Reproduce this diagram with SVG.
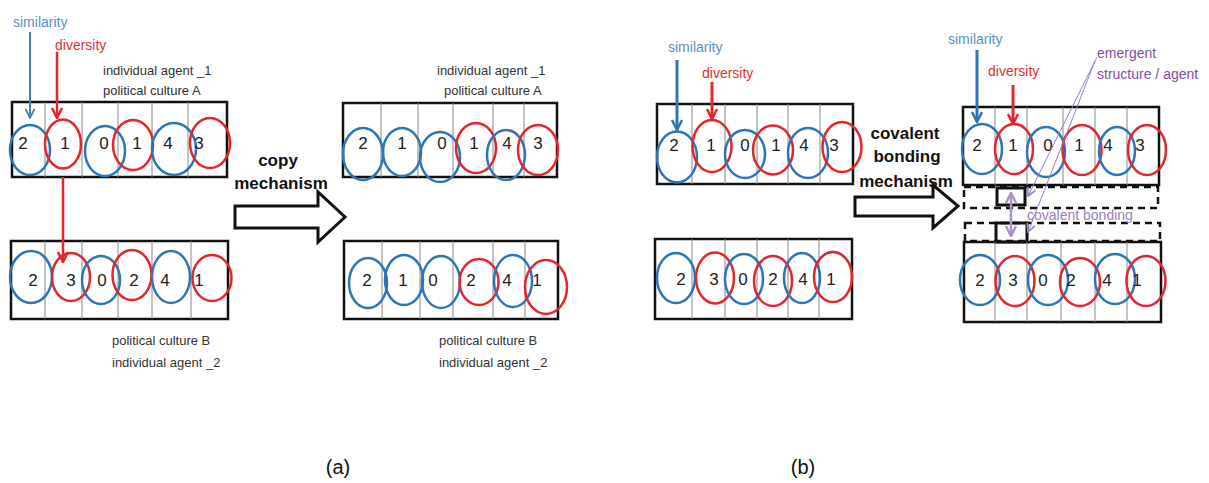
<svg xmlns="http://www.w3.org/2000/svg" width="1209" height="483" viewBox="0 0 1209 483">
<style>
.box{fill:none;stroke:#111;stroke-width:2.5}
.div{stroke:#888;stroke-width:1}
.b{fill:none;stroke:#2E75B6;stroke-width:2.5}
.r{fill:none;stroke:#E3262B;stroke-width:2.5}
.d{font-family:"Liberation Sans",Arial,sans-serif;font-size:17px;fill:#222;text-anchor:middle}
.lbl{font-family:"Liberation Sans",Arial,sans-serif;font-size:13px;fill:#333}
.sim{font-family:"Liberation Sans",Arial,sans-serif;font-size:14px;fill:#5B8FC9}
.div2{font-family:"Liberation Sans",Arial,sans-serif;font-size:14px;fill:#E0302F}
.mech{font-family:"Liberation Sans",Arial,sans-serif;font-size:17px;font-weight:bold;fill:#111;text-anchor:middle}
.pur{font-family:"Liberation Sans",Arial,sans-serif;font-size:14px;fill:#7E4FA5}
.pur2{font-family:"Liberation Sans",Arial,sans-serif;font-size:14px;fill:#9A80C4}
.cap{font-family:"Liberation Sans",Arial,sans-serif;font-size:20px;fill:#111;text-anchor:middle}
.dash{fill:none;stroke:#111;stroke-width:2.5;stroke-dasharray:7 5}
.sq{fill:none;stroke:#111;stroke-width:3}
.big{fill:#fff;stroke:#111;stroke-width:3;stroke-linejoin:miter}
</style>
<defs>
<marker id="ahB" viewBox="0 0 12 12" refX="11" refY="6" markerWidth="12" markerHeight="12" markerUnits="userSpaceOnUse" orient="auto"><path d="M1,1 L11,6 L1,11" fill="none" stroke="#2E75B6" stroke-width="2.5"/></marker>
<marker id="ahLB" viewBox="0 0 12 12" refX="11" refY="6" markerWidth="11" markerHeight="11" markerUnits="userSpaceOnUse" orient="auto"><path d="M1,1 L11,6 L1,11" fill="none" stroke="#4A7EBB" stroke-width="2"/></marker>
<marker id="ahR" viewBox="0 0 12 12" refX="11" refY="6" markerWidth="12" markerHeight="12" markerUnits="userSpaceOnUse" orient="auto"><path d="M1,1 L11,6 L1,11" fill="none" stroke="#E3262B" stroke-width="2.5"/></marker>
<marker id="ahP" viewBox="0 0 12 12" refX="11" refY="6" markerWidth="10" markerHeight="10" markerUnits="userSpaceOnUse" orient="auto"><path d="M1,1 L11,6 L1,11" fill="none" stroke="#9A80C4" stroke-width="2"/></marker>
<marker id="ahPs" viewBox="0 0 12 12" refX="11" refY="6" markerWidth="12" markerHeight="12" markerUnits="userSpaceOnUse" orient="auto-start-reverse"><path d="M1,1 L11,6 L1,11" fill="none" stroke="#A894C8" stroke-width="2.5"/></marker>
</defs>

<g id="a-top">
<rect class="box" x="12" y="102" width="215" height="75"/>
<path class="div" d="M45,102V177M82,102V177M118,102V177M152,102V177M188,102V177"/>
<ellipse class="b" cx="30" cy="150" rx="20" ry="25"/><ellipse class="r" cx="63" cy="144" rx="18" ry="24.5"/><ellipse class="b" cx="105" cy="151" rx="20" ry="25"/><ellipse class="r" cx="133" cy="145" rx="20" ry="25"/><ellipse class="b" cx="174" cy="149" rx="22" ry="26"/><ellipse class="r" cx="210" cy="143" rx="20" ry="25"/>
<text class="d" x="23" y="149">2</text><text class="d" x="65" y="149">1</text><text class="d" x="104" y="149">0</text><text class="d" x="137" y="149">1</text><text class="d" x="168" y="149">4</text><text class="d" x="199" y="149">3</text>
<text class="lbl" x="103" y="75">individual agent  _1</text>
<text class="lbl" x="103" y="95">political culture A</text>
</g>

<g id="a-bottom">
<rect class="box" x="11" y="241" width="217" height="78"/>
<path class="div" d="M45,241V319M82,241V319M118,241V319M152,241V319M191,241V319"/>
<ellipse class="b" cx="31" cy="277" rx="21" ry="26"/><ellipse class="r" cx="71" cy="277" rx="19" ry="24"/><ellipse class="b" cx="101" cy="280" rx="19" ry="24"/><ellipse class="r" cx="132" cy="275" rx="19.5" ry="25"/><ellipse class="b" cx="171" cy="277" rx="19" ry="26"/><ellipse class="r" cx="212" cy="278" rx="19.5" ry="23"/>
<text class="d" x="33" y="286">2</text><text class="d" x="71" y="286">3</text><text class="d" x="102" y="286">0</text><text class="d" x="134" y="286">2</text><text class="d" x="165" y="286">4</text><text class="d" x="199" y="286">1</text>
<text class="lbl" x="112" y="345">political culture B</text>
<text class="lbl" x="112" y="367">individual agent _2</text>
</g>

<g id="a-labels">
<text class="sim" x="13" y="27">similarity</text>
<text class="div2" x="55" y="50">diversity</text>
</g>

<g id="a-mech">
<text class="mech" x="278" y="166">copy</text>
<text class="mech" x="281" y="189">mechanism</text>
<polygon class="big" points="235,206 318,206 318,192 345,217 318,242 318,228 235,228"/>
</g>

<g id="a2-top">
<rect class="box" x="343" y="103" width="214" height="74"/>
<path class="div" d="M381,103V177M418,103V177M453,103V177M493,103V177M524,103V177"/>
<ellipse class="b" cx="363" cy="154" rx="20" ry="26"/><ellipse class="b" cx="402" cy="152" rx="19" ry="24"/><ellipse class="b" cx="440" cy="157" rx="20" ry="25"/><ellipse class="r" cx="476" cy="148" rx="20" ry="25"/><ellipse class="b" cx="506" cy="155" rx="19" ry="25"/><ellipse class="r" cx="538" cy="150" rx="20" ry="25"/>
<text class="d" x="363" y="149">2</text><text class="d" x="402" y="149">1</text><text class="d" x="442" y="149">0</text><text class="d" x="474" y="149">1</text><text class="d" x="507" y="149">4</text><text class="d" x="538" y="149">3</text>
<text class="lbl" x="437" y="75">individual agent  _1</text>
<text class="lbl" x="444" y="95">political culture A</text>
</g>

<g id="a2-bottom">
<rect class="box" x="344" y="241" width="214" height="78"/>
<path class="div" d="M382,241V319M420,241V319M453,241V319M493,241V319M525,241V319"/>
<ellipse class="b" cx="368" cy="283" rx="19" ry="25"/><ellipse class="b" cx="404" cy="280" rx="19" ry="25"/><ellipse class="b" cx="441" cy="282" rx="19" ry="26"/><ellipse class="r" cx="479" cy="282" rx="19.5" ry="23"/><ellipse class="b" cx="513" cy="281" rx="19" ry="26"/><ellipse class="r" cx="546" cy="287" rx="21" ry="27"/>
<text class="d" x="367" y="286">2</text><text class="d" x="403" y="286">1</text><text class="d" x="433" y="286">0</text><text class="d" x="471" y="286">2</text><text class="d" x="507" y="286">4</text><text class="d" x="537" y="286">1</text>
<text class="lbl" x="439" y="345">political culture B</text>
<text class="lbl" x="439" y="367">individual agent _2</text>
</g>

<g id="b-top">
<rect class="box" x="657" y="104" width="196" height="80"/>
<path class="div" d="M692,104V184M725,104V184M757,104V184M788,104V184M820,104V184"/>
<ellipse class="b" cx="677" cy="157" rx="20" ry="25.5"/><ellipse class="r" cx="712" cy="146" rx="19.5" ry="26"/><ellipse class="b" cx="745" cy="154" rx="20" ry="24"/><ellipse class="r" cx="773" cy="150" rx="20" ry="24.5"/><ellipse class="b" cx="808" cy="153" rx="20" ry="25"/><ellipse class="r" cx="842" cy="147" rx="19.5" ry="25"/>
<text class="d" x="674" y="151">2</text><text class="d" x="711" y="151">1</text><text class="d" x="745" y="151">0</text><text class="d" x="776" y="151">1</text><text class="d" x="804" y="151">4</text><text class="d" x="834" y="151">3</text>
<text class="sim" x="668" y="52">similarity</text>
<text class="div2" x="702" y="78">diversity</text>
</g>

<g id="b-bottom">
<rect class="box" x="655" y="239" width="197" height="80"/>
<path class="div" d="M692,239V319M725,239V319M757,239V319M788,239V319M819,239V319"/>
<ellipse class="b" cx="676" cy="278" rx="19" ry="25"/><ellipse class="r" cx="715" cy="278" rx="19" ry="25.5"/><ellipse class="b" cx="744" cy="279" rx="19" ry="25"/><ellipse class="r" cx="773" cy="281" rx="19" ry="25"/><ellipse class="b" cx="802" cy="278" rx="18" ry="25"/><ellipse class="r" cx="833" cy="277" rx="19" ry="25"/>
<text class="d" x="681" y="285">2</text><text class="d" x="714" y="285">3</text><text class="d" x="743" y="285">0</text><text class="d" x="773" y="285">2</text><text class="d" x="803" y="285">4</text><text class="d" x="831" y="285">1</text>
</g>

<g id="b-mech">
<text class="mech" x="905" y="139">covalent</text>
<text class="mech" x="907" y="162">bonding</text>
<text class="mech" x="906" y="187">mechanism</text>
<polygon class="big" points="855,197 933,197 933,185 958,206 933,228 933,216 855,216"/>
</g>

<g id="b2-top">
<rect class="box" x="963" y="107" width="196" height="78"/>
<path class="div" d="M995,107V185M1027,107V185M1063,107V185M1095,107V185M1127,107V185"/>
<ellipse class="b" cx="982" cy="149" rx="20" ry="25"/><ellipse class="r" cx="1014" cy="149" rx="19" ry="25"/><ellipse class="b" cx="1046" cy="152" rx="19" ry="25"/><ellipse class="r" cx="1082" cy="150" rx="19.5" ry="25"/><ellipse class="b" cx="1117" cy="151" rx="18" ry="24"/><ellipse class="r" cx="1147" cy="150" rx="19" ry="25"/>
<text class="d" x="977" y="151">2</text><text class="d" x="1013" y="151">1</text><text class="d" x="1048" y="151">0</text><text class="d" x="1079" y="151">1</text><text class="d" x="1108" y="151">4</text><text class="d" x="1140" y="151">3</text>
<text class="sim" x="948" y="44">similarity</text>
<text class="div2" x="988" y="76">diversity</text>
</g>

<g id="b2-bond">
<rect class="dash" x="964" y="187" width="194" height="21"/>
<rect class="dash" x="965" y="223" width="195" height="18"/>
<rect class="sq" x="997" y="188" width="28" height="17"/>
<rect class="sq" x="996" y="223" width="31" height="19"/>
<text class="pur2" x="1027" y="220">covalent bonding</text>
<text class="pur" x="1097" y="58">emergent</text>
<text class="pur" x="1097" y="79">structure / agent</text>
</g>

<g id="b2-bottom">
<rect class="box" x="964" y="242" width="197" height="80"/>
<path class="div" d="M995,242V322M1027,242V322M1061,242V322M1095,242V322M1127,242V322"/>
<ellipse class="b" cx="980" cy="280" rx="20" ry="25"/><ellipse class="r" cx="1015" cy="281" rx="19.5" ry="25"/><ellipse class="b" cx="1048" cy="280" rx="20" ry="25"/><ellipse class="r" cx="1080" cy="282" rx="20" ry="24"/><ellipse class="b" cx="1115" cy="279" rx="20" ry="25"/><ellipse class="r" cx="1146" cy="281" rx="19.5" ry="25"/>
<text class="d" x="980" y="286">2</text><text class="d" x="1013" y="286">3</text><text class="d" x="1043" y="286">0</text><text class="d" x="1071" y="286">2</text><text class="d" x="1107" y="286">4</text><text class="d" x="1137" y="286">1</text>
</g>

<g id="connectors" fill="none">
<path d="M30,32V118" stroke="#4A7EBB" stroke-width="2" marker-end="url(#ahLB)"/>
<path d="M57,52V118" stroke="#E3262B" stroke-width="2.5" marker-end="url(#ahR)"/>
<path d="M63,177V262" stroke="#E3262B" stroke-width="2.5" marker-end="url(#ahR)"/>
<path d="M677,60V130" stroke="#2E75B6" stroke-width="3" marker-end="url(#ahB)"/>
<path d="M712,82V119" stroke="#E3262B" stroke-width="3" marker-end="url(#ahR)"/>
<path d="M977,50V122" stroke="#2E75B6" stroke-width="3" marker-end="url(#ahB)"/>
<path d="M1013,85V124" stroke="#E3262B" stroke-width="3" marker-end="url(#ahR)"/>
<path d="M1011,193V236" stroke="#A894C8" stroke-width="2.5" marker-start="url(#ahPs)" marker-end="url(#ahPs)"/>
<path d="M1097,57L1028,196" stroke="#9A80C4" stroke-width="1" marker-end="url(#ahP)"/>
<path d="M1095,61L1028,232" stroke="#9A80C4" stroke-width="1" marker-end="url(#ahP)"/>
</g>

<g id="captions">
<text class="cap" x="338" y="474">(a)</text>
<text class="cap" x="803" y="474">(b)</text>
</g>
</svg>
